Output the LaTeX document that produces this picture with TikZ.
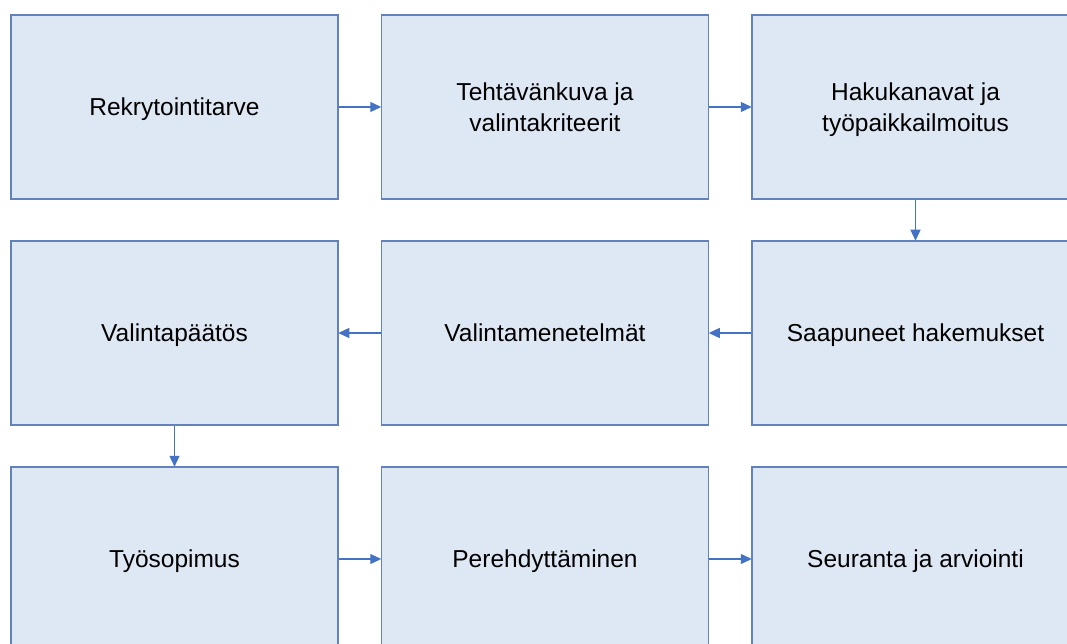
\documentclass[tikz,border=0pt]{standalone}
\usepackage{fontspec}
\setmainfont{Liberation Sans}
\usetikzlibrary{arrows.meta}

\definecolor{boxfill}{HTML}{DEE8F4}
\definecolor{boxline}{HTML}{6282BE}
\definecolor{flowline}{HTML}{4472C4}

\begin{document}
\begin{tikzpicture}[x=1pt, y=-1pt,
    stepbox/.style={draw=boxline, line width=1.5pt, fill=boxfill,
        minimum width=327pt, minimum height=184pt, inner sep=0pt,
        text depth=0pt, align=center,
        font=\fontsize{24.5}{30.5}\selectfont},
    flow/.style={draw=flowline, line width=1.3pt, shorten >=-0.5pt,
        -{Triangle[length=11pt, width=10pt]}}]

    % 1. Canvas (the boxes run past the right and bottom edges)
    \useasboundingbox (0,0) rectangle (1067,644);
    \clip (0,0) rectangle (1067,644);

    % 2. First row
    \node [stepbox] (need)   at (174.5,107) {Rekrytointitarve};
    \node [stepbox] (task)   at (545,107)   {Tehtävänkuva ja\\valintakriteerit};
    \node [stepbox] (ad)     at (915.5,107) {Hakukanavat ja\\työpaikkailmoitus};

    % 3. Second row (runs right to left)
    \node [stepbox] (apps)   at (915.5,333) {Saapuneet hakemukset};
    \node [stepbox] (method) at (545,333)   {Valintamenetelmät};
    \node [stepbox] (choice) at (174.5,333) {Valintapäätös};

    % 4. Third row
    \node [stepbox] (deal)   at (174.5,559) {Työsopimus};
    \node [stepbox] (intro)  at (545,559)   {Perehdyttäminen};
    \node [stepbox] (review) at (915.5,559) {Seuranta ja arviointi};

    % 5. Arrows between the steps
    \draw [flow] (need.east) -- (task.west);
    \draw [flow] (task.east) -- (ad.west);
    \draw [flow] (ad.south) -- (apps.north);
    \draw [flow] (apps.west) -- (method.east);
    \draw [flow] (method.west) -- (choice.east);
    \draw [flow] (choice.south) -- (deal.north);
    \draw [flow] (deal.east) -- (intro.west);
    \draw [flow] (intro.east) -- (review.west);

\end{tikzpicture}
\end{document}
